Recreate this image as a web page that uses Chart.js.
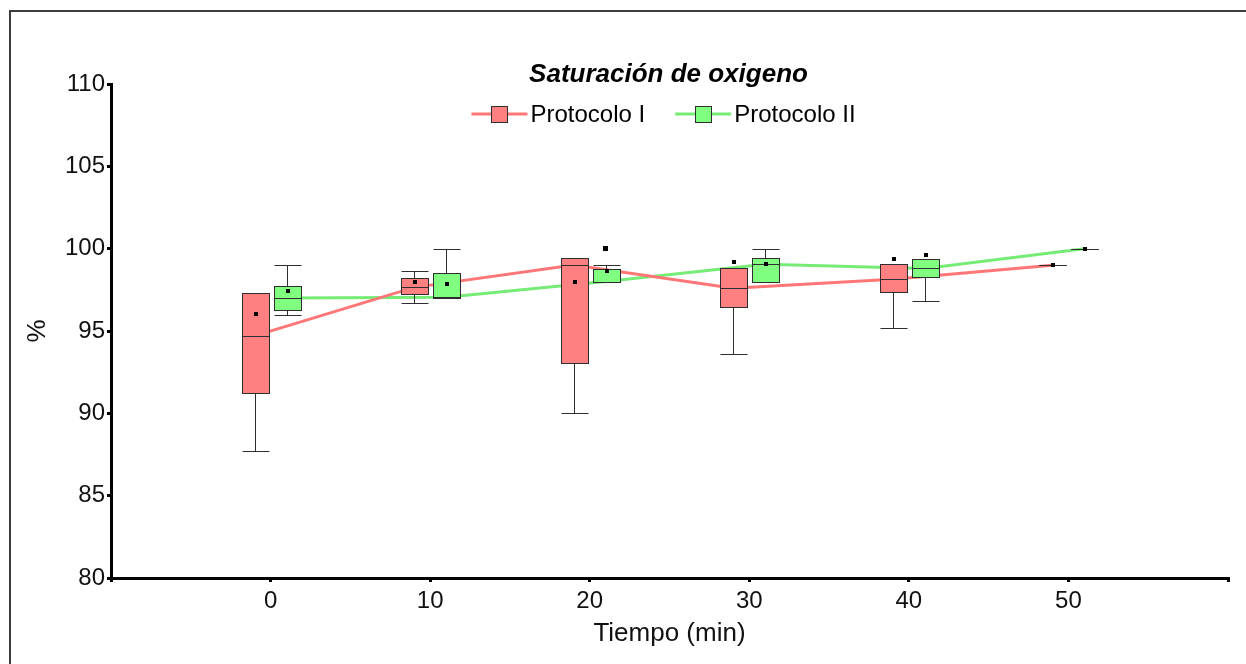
<!DOCTYPE html>
<html>
<head>
<meta charset="utf-8">
<script src="https://cdn.jsdelivr.net/npm/chart.js@4.4.1/dist/chart.umd.min.js"></script>
<style>
    html, body { margin: 0; padding: 0; background: #fff; overflow: hidden; }
    #frame { position: absolute; left: 9px; top: 10px; width: 1400px; height: 800px; border: 2px solid #3c3c3c; }
    #chart { position: absolute; left: 0; top: 0; }
</style>
</head>
<body>
<div id="frame"></div>
<canvas id="chart" width="1246" height="664"></canvas>
<script>
/** --------------------DATA-------------------- */

const times = [0, 10, 20, 30, 40, 50];
const xTicks = [-10, 0, 10, 20, 30, 40, 50, 60];

// Protocolo I
const p1Min = [87.7, 96.7, 90.0, 93.6, 95.2, 99.0];
const p1Q1 = [91.25, 97.25, 93.05, 96.45, 97.35, 99.0];
const p1Median = [94.7, 97.65, 99.0, 97.6, 98.15, 99.0];
const p1Q3 = [97.3, 98.2, 99.45, 98.8, 99.05, 99.0];
const p1Max = [97.3, 98.65, 99.45, 98.8, 99.05, 99.0];
const p1Mean = [96.05, 98.0, 98.0, 99.2, 99.4, 99.0];
const p1OutlierTimes = [];
const p1OutlierValues = [];

// Protocolo II
const p2Min = [96.0, 97.0, 98.0, 98.0, 96.8, 100.0];
const p2Q1 = [96.3, 97.0, 98.0, 98.0, 98.25, 100.0];
const p2Median = [97.0, 97.05, 98.0, 99.05, 98.8, 100.0];
const p2Q3 = [97.75, 98.5, 98.75, 99.45, 99.35, 100.0];
const p2Max = [99.0, 100.0, 99.0, 100.0, 99.35, 100.0];
const p2Mean = [97.45, 97.85, 98.65, 99.05, 99.6, 100.0];
const p2OutlierTimes = [20];
const p2OutlierValues = [100.0];

/** --------------------STYLE-------------------- */

const FONT = "'Liberation Sans', Arial, sans-serif";
const redFill = 'rgb(255,128,128)';
const greenFill = 'rgb(128,255,128)';
const redLine = 'rgb(255,118,118)';
const greenLine = 'rgb(118,236,118)';
const boxWidth = 1.7;      // in x units
const groupShift = 1;      // each protocol sits one unit left/right of the time

const groups = [
    {label: 'Protocolo I', shift: -groupShift, fill: redFill, line: redLine,
        min: p1Min, q1: p1Q1, median: p1Median, q3: p1Q3, max: p1Max, mean: p1Mean,
        outT: p1OutlierTimes, outV: p1OutlierValues},
    {label: 'Protocolo II', shift: groupShift, fill: greenFill, line: greenLine,
        min: p2Min, q1: p2Q1, median: p2Median, q3: p2Q3, max: p2Max, mean: p2Mean,
        outT: p2OutlierTimes, outV: p2OutlierValues}
];

/** --------------------PLUGINS-------------------- */

function crisp(v) {
    return Math.round(v) + 0.5;
}

const boxPlotPlugin = {
    id: 'boxPlot',
    afterDatasetsDraw(chart) {
        const {ctx, scales: {x, y}} = chart;
        const halfW = (x.getPixelForValue(boxWidth) - x.getPixelForValue(0)) / 2;
        ctx.save();
        ctx.lineWidth = 1;
        ctx.strokeStyle = '#2e2e2e';
        groups.forEach(g => {
            times.forEach((t, i) => {
                const cx = crisp(x.getPixelForValue(t + g.shift));
                const left = Math.round(cx - halfW) + 0.5;
                const right = Math.round(cx + halfW) + 0.5;
                const yMin = crisp(y.getPixelForValue(g.min[i]));
                const yQ1 = crisp(y.getPixelForValue(g.q1[i]));
                const yMed = crisp(y.getPixelForValue(g.median[i]));
                const yQ3 = crisp(y.getPixelForValue(g.q3[i]));
                const yMax = crisp(y.getPixelForValue(g.max[i]));

                // whiskers
                ctx.beginPath();
                if (yMax < yQ3) {
                    ctx.moveTo(cx, yQ3); ctx.lineTo(cx, yMax);
                    ctx.moveTo(left, yMax); ctx.lineTo(right, yMax);
                }
                if (yMin > yQ1) {
                    ctx.moveTo(cx, yQ1); ctx.lineTo(cx, yMin);
                    ctx.moveTo(left, yMin); ctx.lineTo(right, yMin);
                }
                ctx.stroke();

                // box
                ctx.fillStyle = g.fill;
                ctx.fillRect(left, yQ3, right - left, yQ1 - yQ3);
                ctx.strokeRect(left, yQ3, right - left, yQ1 - yQ3);

                // median
                ctx.beginPath();
                ctx.moveTo(left, yMed); ctx.lineTo(right, yMed);
                ctx.stroke();

                // mean dot
                ctx.fillStyle = '#000';
                const my = y.getPixelForValue(g.mean[i]);
                ctx.fillRect(Math.round(cx - 2), Math.round(my - 2), 4, 4);
            });
            // outliers
            g.outT.forEach((t, k) => {
                const ox = x.getPixelForValue(t + g.shift);
                const oy = y.getPixelForValue(g.outV[k]);
                ctx.fillStyle = '#000';
                ctx.fillRect(Math.round(ox - 3), Math.round(oy - 3), 5, 5);
            });
        });
        ctx.restore();
    }
};

const headerPlugin = {
    id: 'header',
    afterDraw(chart) {
        const {ctx, chartArea} = chart;
        const cx = (chartArea.left + chartArea.right) / 2;
        ctx.save();
        ctx.fillStyle = '#000';
        ctx.textAlign = 'center';
        ctx.textBaseline = 'middle';
        ctx.font = `italic bold 26px ${FONT}`;
        ctx.fillText('Saturación de oxigeno', cx - 1, 75);

        // legend: line + square marker, then label
        ctx.font = `24px ${FONT}`;
        const markerW = 56, textGap = 3, itemGap = 30;
        const widths = groups.map(g => markerW + textGap + ctx.measureText(g.label).width);
        let total = widths.reduce((a, b) => a + b, 0) + itemGap * (groups.length - 1);
        let lx = cx - 6 - total / 2;
        const ly = 114;
        groups.forEach((g, k) => {
            ctx.strokeStyle = g.line;
            ctx.lineWidth = 3;
            ctx.beginPath();
            ctx.moveTo(lx, ly); ctx.lineTo(lx + markerW, ly);
            ctx.stroke();
            ctx.fillStyle = g.fill;
            ctx.fillRect(lx + markerW / 2 - 8, ly - 8, 16, 16);
            ctx.strokeStyle = '#2e2e2e';
            ctx.lineWidth = 1;
            ctx.strokeRect(Math.round(lx + markerW / 2 - 8) + 0.5, Math.round(ly - 8) + 0.5, 16, 16);
            ctx.fillStyle = '#000';
            ctx.textAlign = 'left';
            ctx.fillText(g.label, lx + markerW + textGap, ly + 1);
            lx += widths[k] + itemGap;
        });
        ctx.restore();
    }
};

/** --------------------CHART-------------------- */

const ctx = document.getElementById('chart').getContext('2d');
new Chart(ctx, {
    type: 'line',
    data: {
        datasets: groups.map(g => ({
            label: g.label,
            data: times.map((t, i) => ({x: t + g.shift, y: g.median[i]})),
            borderColor: g.line,
            borderWidth: 3,
            pointRadius: 0,
            tension: 0,
            fill: false
        }))
    },
    options: {
        responsive: false,
        animation: false,
        layout: {padding: {left: 0, right: 18, top: 84, bottom: 0}},
        plugins: {
            legend: {display: false},
            title: {display: false},
            tooltip: {enabled: false}
        },
        scales: {
            x: {
                type: 'linear',
                min: -10,
                max: 60,
                afterBuildTicks: scale => {
                    scale.ticks = xTicks.map(v => ({value: v}));
                },
                afterFit: scale => { scale.height = 86; },
                border: {display: true, color: '#000', width: 3},
                grid: {display: true, drawOnChartArea: false, drawTicks: true, tickLength: 4, color: '#000', lineWidth: 3},
                ticks: {
                    padding: 5,
                    color: '#111',
                    font: {family: FONT, size: 24},
                    maxRotation: 0,
                    callback: v => (v < 0 || v > 50) ? '' : v
                },
                title: {
                    display: true,
                    text: 'Tiempo (min)',
                    color: '#111',
                    font: {family: FONT, size: 26},
                    padding: {top: 0, bottom: 15}
                }
            },
            y: {
                min: 80,
                max: 110,
                afterFit: scale => { scale.width = 111; },
                border: {display: true, color: '#000', width: 3},
                grid: {display: true, drawOnChartArea: false, drawTicks: true, tickLength: 4, color: '#000', lineWidth: 3},
                ticks: {
                    stepSize: 5,
                    padding: 2,
                    color: '#111',
                    font: {family: FONT, size: 24}
                },
                title: {
                    display: true,
                    text: '%',
                    color: '#111',
                    font: {family: FONT, size: 26},
                    padding: {top: 22, bottom: 0}
                }
            }
        }
    },
    plugins: [boxPlotPlugin, headerPlugin]
});
</script>
</body>
</html>
